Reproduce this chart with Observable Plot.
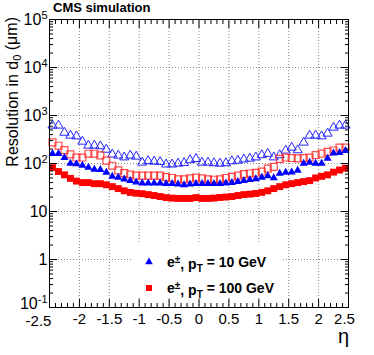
<!DOCTYPE html>
<html><head><meta charset="utf-8">
<script src="https://cdn.jsdelivr.net/npm/d3@7"></script>
<script src="https://cdn.jsdelivr.net/npm/@observablehq/plot@0.6"></script>
<style>
body{margin:0;background:#fff}
svg{font-family:"Liberation Sans",Arial,Helvetica,sans-serif}
</style>
</head><body><div id="chart"></div>
<script>
// eta bin centres
const eta = [-2.45,-2.35,-2.25,-2.15,-2.05,-1.95,-1.85,-1.75,-1.65,-1.55,
             -1.45,-1.35,-1.25,-1.15,-1.05,-0.95,-0.85,-0.75,-0.65,-0.55,
             -0.45,-0.35,-0.25,-0.15,-0.05,0.05,0.15,0.25,0.35,0.45,
             0.55,0.65,0.75,0.85,0.95,1.05,1.15,1.25,1.35,1.45,
             1.55,1.65,1.75,1.85,1.95,2.05,2.15,2.25,2.35,2.45];
// pT = 10 GeV, open triangles
const blueOpen = [620,620,440,383,370,287,237,237,230,195,
                  155,147,135,147,140,105,113,110,108,96,
                  96,100,103,118,125,105,105,102,100,102,
                  112,115,122,127,135,150,160,135,150,187,
                  215,190,274,383,383,370,422,562,620,620];
// pT = 10 GeV, filled triangles
const blueFilled = [160,160,133,100,98,91,83,75,74,65,
                    54,51,47,44,41,39,39,39,39,38,
                    38,37,36,37,38,38,38,38,38,39,
                    40,42,44,46,48,51,55,50,62,65,
                    66,72,100,105,100,100,127,165,168,185];
// pT = 100 GeV, open squares
const redOpen = [275,235,190,155,133,133,160,160,148,115,
                 90,72,63,59,56,56,56,56,56,52,
                 50,47,47,49,51,49,47,46,47,50,
                 53,56,60,62,64,68,78,85,125,133,
                 130,128,130,133,150,161,175,187,215,215];
// pT = 100 GeV, filled squares
const redFilled = [82,68,58,49,43,40,40,38,38,36,
                   33,30,27,25,24,23.5,22.5,21.5,20.5,19.5,
                   19,18.7,18.7,18.7,19.5,18.7,18.7,19,19.6,20,
                   20.5,21.5,22.5,23,23.7,25,27,30,33,36,
                   38,40,42,44,50,54,58,66,73,80];

const xMajor = [-2.5,-2,-1.5,-1,-0.5,0,0.5,1,1.5,2,2.5];
const xTickLabels = ["-2.5","-2","-1.5","-1","-0.5","0","0.5","1","1.5","2","2.5"];
const xGrid = [-2,-1.5,-1,-0.5,0,0.5,1,1.5,2];
const yMajor = [0.1,1,10,100,1000,10000,100000];
const yTickLabels = ["10^-1","1","10","10^2","10^3","10^4","10^5"];
const yGrid = [1,10,100,1000,10000];
const legendLabels = ["10", "100"];

const xMinor = d3.range(-25, 26).map(v => v / 10).filter(v => !xMajor.includes(v));
const yMinor = [];
for (let e = -1; e < 5; e++) for (let k = 2; k <= 9; k++) yMinor.push(k * Math.pow(10, e));

const xLab = new Map(xMajor.map((v, i) => [v, xTickLabels[i]]));
const yLab = new Map(yMajor.map((v, i) => [v, yTickLabels[i]]));

const grid = {stroke: "#888", strokeDasharray: "1,2", strokeWidth: 1};
const plot = Plot.plot({
  width: 374, height: 355,
  marginLeft: 49, marginRight: 26, marginTop: 19, marginBottom: 48,
  x: {domain: [-2.5, 2.5]},
  y: {type: "log", domain: [0.1, 1e5]},
  style: {fontFamily: "'Liberation Sans', Arial, sans-serif", background: "white", color: "black"},
  marks: [
    Plot.ruleX(xGrid, grid),
    Plot.ruleY(yGrid, grid),
    Plot.dot(eta, {x: eta, y: blueOpen, symbol: "triangle", r: 3.4, stroke: "#2424ff", strokeWidth: 1, fill: "none"}),
    Plot.dot(eta, {x: eta, y: redOpen, symbol: "square", r: 3.9, stroke: "#ff2a2a", strokeOpacity: 0.85, strokeWidth: 1.2, fill: "none"}),
    Plot.dot(eta, {x: eta, y: blueFilled, symbol: "triangle", r: 3, fill: "#0000ff", stroke: "none"}),
    Plot.dot(eta, {x: eta, y: redFilled, symbol: "square", r: 3.9, fill: "#ff0000", stroke: "none"}),
    Plot.frame({stroke: "black", strokeWidth: 1}),
    Plot.axisX(xMinor, {anchor: "bottom", tickSize: -4, text: null, label: null}),
    Plot.axisX(xMajor, {anchor: "bottom", tickSize: -8, text: null, label: null}),
    Plot.axisX(xMinor, {anchor: "top", tickSize: -4, text: null, label: null}),
    Plot.axisX(xMajor, {anchor: "top", tickSize: -8, text: null, label: null}),
    Plot.axisX(xMajor, {anchor: "bottom", tickSize: 0, tickPadding: 6, fontSize: 15, tickFormat: d => xLab.get(d), label: null}),
    Plot.axisY(yMinor, {anchor: "left", tickSize: -4, text: null, label: null}),
    Plot.axisY(yMajor, {anchor: "left", tickSize: -8, text: null, label: null}),
    Plot.axisY(yMinor, {anchor: "right", tickSize: -4, text: null, label: null}),
    Plot.axisY(yMajor, {anchor: "right", tickSize: -8, text: null, label: null}),
    Plot.axisY(yMajor, {anchor: "left", tickSize: 0, tickPadding: 2, fontSize: 16, tickFormat: d => yLab.get(d), label: null})
  ]
});
document.getElementById("chart").appendChild(plot);

const svg = d3.select(plot);
// superscripts in y tick labels
svg.selectAll('g[aria-label="y-axis tick label"] text').each(function () {
  const t = this.textContent;
  const m = t.match(/^(10)\^(-?\d+)$/);
  if (m) {
    const s = d3.select(this);
    s.text(null);
    s.append("tspan").text(m[1]);
    s.append("tspan").attr("dy", "-0.5em").attr("font-size", "11px").text(m[2]);
    if (m[2] === "-1") s.attr("dy", -4);
  }
});
// shift end x labels like the reference
svg.selectAll('g[aria-label="x-axis tick label"] text').each(function () {
  if (this.textContent === "-2.5") d3.select(this).attr("dx", -11).attr("dy", 2);
  if (this.textContent === "2.5") d3.select(this).attr("dx", -4);
});

// title
svg.append("text").attr("x", 53).attr("y", 12).attr("text-anchor", "start")
  .attr("font-size", 13).attr("font-weight", "bold").text("CMS simulation");
// y title
const yt = svg.append("text").attr("transform", "translate(18,17) rotate(-90)").attr("text-anchor", "end").attr("font-size", 16);
yt.append("tspan").text("Resolution in d");
yt.append("tspan").attr("dy", "0.3em").attr("font-size", 11).text("0");
yt.append("tspan").attr("dy", "-0.3em").text(" (\u03bcm)");
// x title
svg.append("text").attr("x", 349).attr("y", 343).attr("text-anchor", "end").attr("font-size", 20).text("\u03b7");

// legend
const lg = svg.append("g").attr("text-anchor", "start");
lg.append("rect").attr("x", 131).attr("y", 242).attr("width", 152).attr("height", 56).attr("fill", "white");
lg.append("path").attr("d", d3.symbol(d3.symbolTriangle, 26)()).attr("transform", "translate(149,262)").attr("fill", "#0000ff");
lg.append("rect").attr("x", 146).attr("y", 285).attr("width", 6).attr("height", 6).attr("fill", "#ff0000");
[[267, legendLabels[0]], [293, legendLabels[1]]].forEach(([y, v]) => {
  const t = lg.append("text").attr("x", 167).attr("y", y).attr("text-anchor", "start")
    .attr("font-size", 14).attr("font-weight", "bold");
  t.append("tspan").text("e");
  t.append("tspan").attr("dy", "-0.45em").attr("font-size", 10).text("\u00b1");
  t.append("tspan").attr("dy", "0.45em").text(", p");
  t.append("tspan").attr("dy", "0.35em").attr("font-size", 10).text("T");
  t.append("tspan").attr("dy", "-0.35em").text(" = " + v + " GeV");
});
</script>
</body></html>
